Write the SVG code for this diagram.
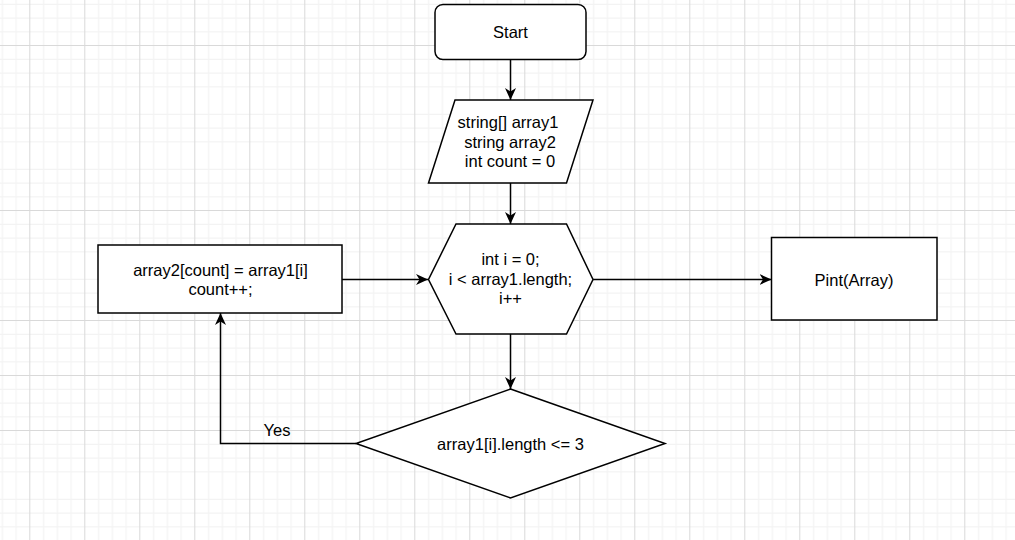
<svg xmlns="http://www.w3.org/2000/svg" width="1015" height="540" viewBox="0 0 1015 540">
  <defs>
    <pattern id="grid" patternUnits="userSpaceOnUse" x="29.3" y="45" width="55" height="55">
      <rect x="13.75" y="0" width="1.2" height="55" fill="#f3f3f3"/>
      <rect x="27.5" y="0" width="1.2" height="55" fill="#f3f3f3"/>
      <rect x="41.25" y="0" width="1.2" height="55" fill="#f3f3f3"/>
      <rect x="0" y="13.75" width="55" height="1.2" fill="#f3f3f3"/>
      <rect x="0" y="27.5" width="55" height="1.2" fill="#f3f3f3"/>
      <rect x="0" y="41.25" width="55" height="1.2" fill="#f3f3f3"/>
      <rect x="0" y="0" width="1" height="55" fill="#d9d9d9"/>
      <rect x="0" y="0" width="55" height="1" fill="#d9d9d9"/>
    </pattern>
    <marker id="arrow" markerUnits="userSpaceOnUse" markerWidth="13" markerHeight="12" refX="12" refY="6" orient="auto">
      <path d="M0,0.5 L12,6 L0,11.5 L3.5,6 Z" fill="#000"/>
    </marker>
  </defs>
  <style>
    .shape { fill: #ffffff; stroke: #000000; stroke-width: 1.5; }
    .lbl { font-family: "Liberation Sans", Arial, sans-serif; font-size: 16.5px; fill: #000000; text-anchor: middle; }
    .edge { fill: none; stroke: #000000; stroke-width: 1.5; marker-end: url(#arrow); }
  </style>
  <rect x="0" y="0" width="1015" height="540" fill="#ffffff"/>
  <rect x="0" y="0" width="1015" height="540" fill="url(#grid)"/>

  <g id="connectors">
    <path class="edge" d="M510.5 59.5 V100"/>
    <path class="edge" d="M510.5 183 V224"/>
    <path class="edge" d="M510.5 334 V389"/>
    <path class="edge" d="M342 279.5 H428"/>
    <path class="edge" d="M593 279.5 H771.5"/>
    <path class="edge" d="M356 443.5 H220.5 V313"/>
    <text class="lbl" x="277" y="436">Yes</text>
  </g>

  <g id="start">
    <rect class="shape" x="435" y="4.5" width="151" height="55" rx="8" ry="8"/>
    <text class="lbl" x="510.5" y="37.5">Start</text>
  </g>

  <g id="declare">
    <polygon class="shape" points="455,100 593,100 566.5,183 428.5,183"/>
    <text class="lbl" x="508" y="128">string[] array1</text>
    <text class="lbl" x="510" y="147.5">string array2</text>
    <text class="lbl" x="510" y="167">int count = 0</text>
  </g>

  <g id="loop">
    <polygon class="shape" points="456,224 566.5,224 593,279.5 566.5,334 456,334 428.5,279.5"/>
    <text class="lbl" x="510.5" y="265">int i = 0;</text>
    <text class="lbl" x="510.5" y="285">i &lt; array1.length;</text>
    <text class="lbl" x="510.5" y="304">i++</text>
  </g>

  <g id="assign">
    <rect class="shape" x="98" y="245" width="244" height="68"/>
    <text class="lbl" x="220.5" y="275.5">array2[count] = array1[i]</text>
    <text class="lbl" x="220.5" y="295">count++;</text>
  </g>

  <g id="print">
    <rect class="shape" x="771.5" y="237.5" width="165.5" height="82.5"/>
    <text class="lbl" x="854" y="286">Pint(Array)</text>
  </g>

  <g id="condition">
    <polygon class="shape" points="510.5,389 665,443.5 510.5,498 356,443.5"/>
    <text class="lbl" x="510.5" y="449.5">array1[i].length &lt;= 3</text>
  </g>
</svg>
